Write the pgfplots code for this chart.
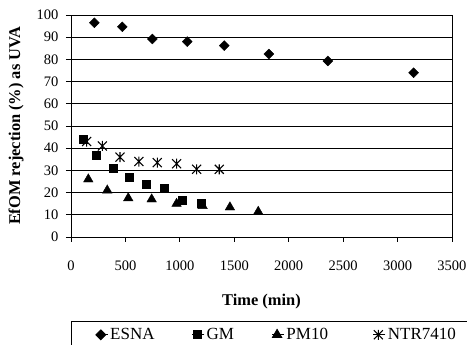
\documentclass[border=0pt]{standalone}
\usepackage{fontspec}
\setmainfont{Liberation Serif}
\usepackage{pgfplots}
\pgfplotsset{compat=1.18}
\usetikzlibrary{plotmarks}

\pgfdeclareplotmark{xstar}{%
  \pgfpathmoveto{\pgfqpoint{0pt}{-\pgfplotmarksize}}%
  \pgfpathlineto{\pgfqpoint{0pt}{\pgfplotmarksize}}%
  \pgfpathmoveto{\pgfqpoint{-.9\pgfplotmarksize}{-.9\pgfplotmarksize}}%
  \pgfpathlineto{\pgfqpoint{.9\pgfplotmarksize}{.9\pgfplotmarksize}}%
  \pgfpathmoveto{\pgfqpoint{-.9\pgfplotmarksize}{.9\pgfplotmarksize}}%
  \pgfpathlineto{\pgfqpoint{.9\pgfplotmarksize}{-.9\pgfplotmarksize}}%
  \pgfusepathqstroke}

\pgfplotsset{
  mym/.style={only marks, black, fill=black,
    legend image code/.code={\path (-5pt,0pt) -- (7pt,0pt); \draw[##1] plot coordinates {(0pt,0pt)};}},
}

\begin{document}
\begin{tikzpicture}
\path[use as bounding box] (-71pt,-108pt) rectangle (396pt,237pt);
\clip (-71pt,-108pt) rectangle (396pt,237pt);
\begin{axis}[
  at={(0pt,0pt)}, anchor=south west,
  scale only axis, width=381pt, height=222pt,
  xmin=0, xmax=3500, ymin=0, ymax=100,
  xtick={0,500,...,3500}, ytick={0,10,...,100},
  tick pos=left, tick align=outside, major tick length=5pt,
  ymajorgrids, grid style={black, line width=0.6pt},
  axis line style={line width=0.9pt},
  every tick/.style={black, line width=0.8pt},
  /pgf/number format/assume math mode=true,
  /pgf/number format/1000 sep={},
  tick label style={font=\fontsize{14.5}{16}\selectfont},
  xticklabel style={yshift=-15pt},
  yticklabel style={xshift=-4pt},
  xlabel={Time (min)}, ylabel={EfOM rejection (\%) as UVA},
  label style={font=\bfseries\fontsize{16.4}{18}\selectfont},
  xlabel style={at={(axis description cs:0.5,-0.2928)}, anchor=center},
  ylabel style={at={(axis description cs:-0.1444,0.5)}, anchor=center},
  legend columns=4,
  legend style={at={(axis description cs:0,-0.3784)}, anchor=north west,
    draw=black, line width=0.8pt, inner xsep=24pt, inner ysep=5pt,
    font=\fontsize{17}{19}\selectfont,
    /tikz/every even column/.style={column sep=0pt},
    /tikz/every odd column/.style={column sep=0pt},
    cells={inner sep=0pt}},
]
\addplot[mym, mark=square*, mark size=3.5pt, mark options={rotate=45}] coordinates {
(214,96.5) (471,94.7) (747,89.2) (1068,88) (1408,86.2) (1818,82.4) (2360,79.3) (3147,74)};
\addlegendentry{\makebox[79.7pt][l]{ESNA}}
\addplot[mym, mark=square*, mark size=4pt] coordinates {
(113,44) (236,37) (389,31) (533,27) (695,24) (857,22) (1019,16.5) (1200,15)};
\addlegendentry{\makebox[63pt][l]{GM}}
\addplot[mym, mark=triangle*, mark size=5.5pt] coordinates {
(159,26) (333,21) (526,17.5) (741,17) (970,15) (1209,14) (1460,13.4) (1720,11.4)};
\addlegendentry{\makebox[84.3pt][l]{PM10}}
\addplot[mym, mark=xstar, mark size=5pt, line width=1.1pt] coordinates {
(144,43) (288,41) (450,36) (624,34) (793,33.5) (970,33) (1154,30.5) (1362,30.5)};
\addlegendentry{\makebox[58pt][l]{NTR7410}}
\end{axis}
\end{tikzpicture}
\end{document}
